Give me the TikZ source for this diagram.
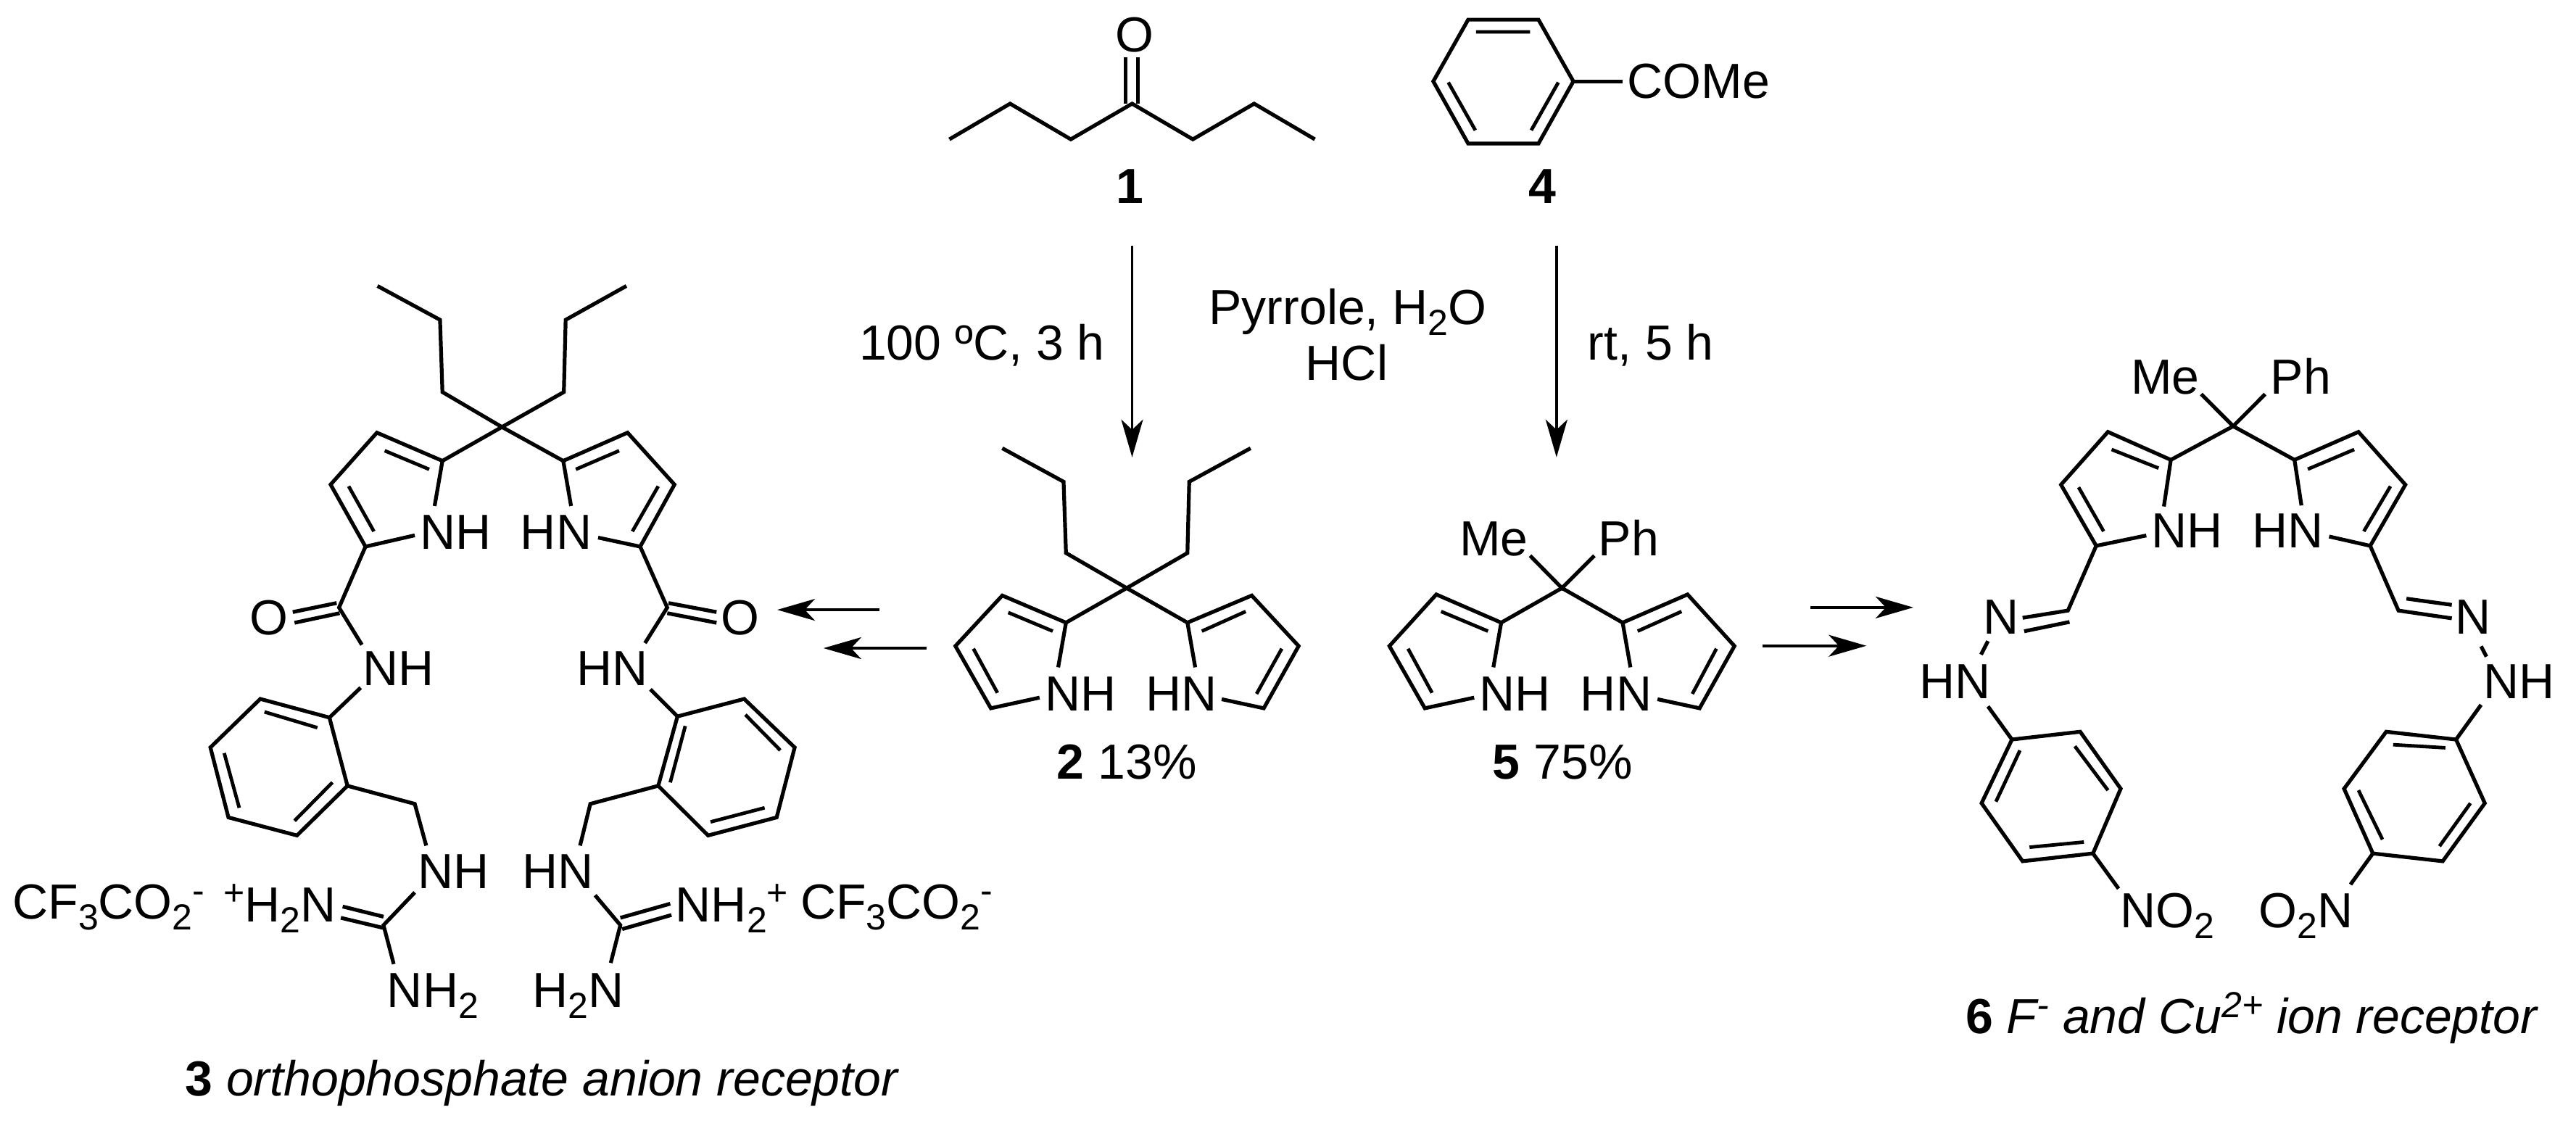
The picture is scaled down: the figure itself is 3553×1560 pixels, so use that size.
\documentclass[tikz,border=0pt]{standalone}
\usepackage{fontspec}
\setmainfont{Liberation Sans}
\usetikzlibrary{arrows.meta}
\newcommand{\sbs}[1]{\raisebox{-0.22em}{\fontsize{50}{50}\selectfont #1}}
\newcommand{\spp}[1]{\raisebox{0.33em}{\fontsize{50}{50}\selectfont #1}}
\newcommand{\pts}[1]{\foreach \n/\px/\py in {#1} {\coordinate (\n) at (\px,\py);}}
\tikzset{
  bond/.style={line width=5.2pt,black},
  inner bond/.style={line width=4.8pt,black},
  react/.style={line width=3.8pt,black,-{Stealth[length=52pt,width=30pt,inset=14pt]}},
  lab/.style={anchor=base west,inner sep=0pt,outer sep=0pt,xshift=-5pt,font=\fontsize{68}{80}\selectfont},
  labc/.style={anchor=base,inner sep=0pt,outer sep=0pt,font=\fontsize{68}{80}\selectfont},
  zoomA/.style={shift={(0pt,-340pt)},x=0.8291pt,y=-0.7781pt},
  zoomB/.style={shift={(1200pt,0pt)},x=0.8291pt,y=-0.7334pt},
  zoomC/.style={shift={(2400pt,-440pt)},x=0.7353pt,y=-0.7143pt},
}
\begin{document}
\begin{tikzpicture}
\useasboundingbox (0pt,0pt) rectangle (3553pt,-1560pt);
\fill[white] (0pt,0pt) rectangle (3553pt,-1560pt);

% ---------- compound 3 ----------
\begin{scope}[zoomA]
\pts{c1/628/70,c2/732/130,c3/736/258,c0/835/320,c4/938/258,c5/941/130,c6/1042/70,
 la/736/380,lb/627/330,lc/550/422,ld/608/532,ln1/723/460,ln2/690/512,
 ra/937/380,rb/1044/330,rc/1122/422,rd/1065/532,rn1/950/460,rn2/995/516,
 lco/564/640,lam/602/706,lo1/487/648,lo2/490/667,lc1/560/632,lc2/565/650,
 rco/1110/640,ram/1073/703,ro1/1192/648,ro2/1192/667,rc1/1112/632,rc2/1110/650,
 lan/600/782,b1/548/835,b2/433/802,b3/350/888,b4/380/1012,b5/494/1044,b6/578/956,
 lch/690/988,lnh/709/1062,lg1/690/1145,lg/638/1203,lg2/655/1272,
 ln3/570/1170,ln4/567/1190,lg3/638/1188,lg4/638/1208,
 ran/1082/785,d1/1127/833,d2/1238/802,d3/1322/888,d4/1292/1012,d5/1178/1044,d6/1095/956,
 rch/982/988,rnh/965/1062,rg1/990/1150,rg/1032/1203,rg2/1016/1270,
 rn3/1115/1165,rn4/1117/1185,rg3/1032/1190,rg4/1035/1210}
\draw[bond] (c1)--(c2)--(c3)--(c0)--(c4)--(c5)--(c6);
\draw[bond] (la)--(c0)--(ra);
\draw[bond] (ln1)--(la)--(lb)--(lc)--(ld)--(ln2);
\draw[bond] (rn1)--(ra)--(rb)--(rc)--(rd)--(rn2);
\draw[inner bond] (714,395)--(640,362) (580,425)--(622,505) (958,395)--(1030,362) (1095,425)--(1052,505);
\draw[bond] (ld)--(lco)--(lam) (rd)--(rco)--(ram);
\draw[bond] (lc1)--(lo1) (lc2)--(lo2) (rc1)--(ro1) (rc2)--(ro2);
\draw[bond] (b1)--(b2)--(b3)--(b4)--(b5)--(b6)--cycle;
\draw[bond] (lan)--(b1);
\draw[inner bond] (440,825)--(528,853) (373,898)--(398,995) (490,1018)--(553,950);
\draw[bond] (b6)--(lch)--(lnh) (lg1)--(lg)--(lg2) (ln3)--(lg3) (ln4)--(lg4);
\draw[bond] (d1)--(d2)--(d3)--(d4)--(d5)--(d6)--cycle;
\draw[bond] (ran)--(d1);
\draw[inner bond] (1240,830)--(1298,893) (1182,1020)--(1272,995) (1115,950)--(1140,850);
\draw[bond] (d6)--(rch)--(rnh) (rg1)--(rg)--(rg2) (rn3)--(rg3) (rn4)--(rg4);
\node[lab] (t3a) at (705,537) {NH};
\node[lab] (t3b) at (872,537) {HN};
\node[labc] (t3c) at (447,688) {O};
\node[labc] (t3d) at (1231,688) {O};
\node[lab] (t3e) at (610,778) {NH};
\node[lab] (t3f) at (965,778) {HN};
\node[lab] (t3g) at (701,1138) {NH};
\node[lab] (t3h) at (875,1138) {HN};
\node[lab] (t3i) at (27,1192) {CF\sbs{3}CO\sbs{2}\spp{-}};
\node[lab] (t3j) at (378,1197) {\spp{+}H\sbs{2}N};
\node[lab] (t3k) at (1130,1197) {NH\sbs{2}\spp{+}};
\node[lab] (t3l) at (1338,1192) {CF\sbs{3}CO\sbs{2}\spp{-}};
\node[lab] (t3m) at (650,1349) {NH\sbs{2}};
\node[lab] (t3n) at (892,1349) {H\sbs{2}N};
\node[lab] (t3o) at (314,1505) {\textbf{3} \itshape orthophosphate anion receptor};
\coordinate (ar1s) at (1463,644); \coordinate (ar1e) at (1293,644);
\coordinate (ar2s) at (1541,712); \coordinate (ar2e) at (1370,712);
\draw[react] (ar1s)--(ar1e);
\draw[react] (ar2s)--(ar2e);
\end{scope}

% ---------- compounds 1, 4, 2, 5 ----------
\begin{scope}[zoomB]
\pts{k1/132/262,k2/233/195,k3/334/262,k4/436/195,k5/537/262,k6/639/195,k7/740/262,
 ko1/425/195,ko2/425/108,ko3/446/195,ko4/446/108,
 p1/1170/153,p2/1112/37,p3/995/37,p4/937/153,p5/995/270,p6/1112/270,px/1252/153,
 e1/220/843,e2/322/906,e3/326/1040,e0/427/1106,e4/528/1040,e5/531/906,e6/633/843,
 ea/326/1171,eb/220/1120,ec/142/1215,ed/201/1332,en1/313/1255,en2/282/1312,
 fa/528/1171,fb/635/1120,fc/713/1215,fd/655/1332,fn1/541/1255,fn2/585/1315,
 g0/1151/1106,gm/1098/1045,gp/1205/1045,
 ga/1050/1171,gb/942/1118,gc/864/1215,gd/923/1332,gn1/1037/1255,gn2/1005/1312,
 ha/1252/1171,hb/1360/1118,hc/1438/1215,hd/1380/1332,hn1/1265/1255,hn2/1310/1315}
\draw[bond] (k1)--(k2)--(k3)--(k4)--(k5)--(k6)--(k7);
\draw[bond] (ko1)--(ko2) (ko3)--(ko4);
\node[labc] (t1o) at (440,97) {O};
\node[labc] (t1) at (432,383) {\textbf{1}};
\draw[bond] (p1)--(p2)--(p3)--(p4)--(p5)--(p6)--cycle;
\draw[inner bond] (1008,60)--(1098,60) (962,155)--(1007,245) (1145,155)--(1100,245);
\draw[bond] (p1)--(px);
\node[lab] (t4c) at (1266,185) {COMe};
\node[labc] (t4) at (1118,383) {\textbf{4}};
\coordinate (v1s) at (436,462); \coordinate (v1e) at (436,860);
\coordinate (v2s) at (1142,462); \coordinate (v2e) at (1142,860);
\draw[react] (v1s)--(v1e);
\draw[react] (v2s)--(v2e);
\node[lab] (tc1) at (-12,677) {100 ºC, 3 h};
\node[lab] (tc2) at (570,610) {Pyrrole, H\sbs{2}O};
\node[labc] (tc3) at (793,715) {HCl};
\node[lab] (tc4) at (1200,677) {rt, 5 h};
\draw[bond] (e1)--(e2)--(e3)--(e0)--(e4)--(e5)--(e6);
\draw[bond] (ea)--(e0)--(fa);
\draw[bond] (en1)--(ea)--(eb)--(ec)--(ed)--(en2);
\draw[bond] (fn1)--(fa)--(fb)--(fc)--(fd)--(fn2);
\draw[inner bond] (304,1187)--(230,1152) (172,1220)--(212,1303) (552,1187)--(625,1150) (685,1220)--(643,1305);
\node[lab] (t2a) at (297,1337) {NH};
\node[lab] (t2b) at (465,1337) {HN};
\node[lab] (t2) at (317,1465) {\textbf{2} 13\%};
\draw[bond] (gm)--(g0)--(gp) (ga)--(g0)--(ha);
\draw[bond] (gn1)--(ga)--(gb)--(gc)--(gd)--(gn2);
\draw[bond] (hn1)--(ha)--(hb)--(hc)--(hd)--(hn2);
\draw[inner bond] (1028,1187)--(950,1150) (895,1220)--(935,1303) (1277,1187)--(1350,1150) (1408,1220)--(1368,1305);
\node[lab] (t5me) at (987,1045) {Me};
\node[lab] (t5ph) at (1218,1045) {Ph};
\node[lab] (t5a) at (1020,1337) {NH};
\node[lab] (t5b) at (1188,1337) {HN};
\node[lab] (t5) at (1042,1465) {\textbf{5} 75\%};
\end{scope}

% ---------- compound 6 ----------
\begin{scope}[zoomC]
\pts{m0/925/207,mm/865/145,mp/985/145,
 qa/808/272,qb/690/218,qc/602/320,qd/668/438,qn1/795/362,qn2/762/418,
 sa/1040/272,sb/1160/218,sc/1248/320,sd/1182/438,sn1/1053/360,sn2/1105/420,
 qe/615/563,qf/530/577,qg/618/585,qh/533/603,qi/465/622,qj/452/648,qk/465/748,
 u1/510/812,u2/638/797,u3/714/907,u4/662/1032,u5/530/1047,u6/453/935,un/710/1100,
 se/1235/563,sf/1335/578,sg/1250/540,sh/1335/552,si/1390/632,sj/1400/652,sk/1390/745,
 w1/1343/812,w2/1212/797,w3/1133/907,w4/1187/1032,w5/1318/1047,w6/1397/935,wn/1145/1092}
\draw[bond] (mm)--(m0)--(mp) (qa)--(m0)--(sa);
\draw[bond] (qn1)--(qa)--(qb)--(qc)--(qd)--(qn2);
\draw[bond] (sn1)--(sa)--(sb)--(sc)--(sd)--(sn2);
\draw[inner bond] (785,288)--(697,252) (635,325)--(682,410) (1065,290)--(1152,252) (1220,323)--(1170,410);
\draw[bond] (qd)--(qe)--(qf) (qg)--(qh) (qi)--(qj) (qk)--(u1);
\draw[bond] (u1)--(u2)--(u3)--(u4)--(u5)--(u6)--cycle;
\draw[inner bond] (628,825)--(690,910) (525,833)--(480,932) (543,1020)--(645,1010);
\draw[bond] (u4)--(un);
\draw[bond] (sd)--(se)--(sf) (sg)--(sh) (si)--(sj) (sk)--(w1);
\draw[bond] (w1)--(w2)--(w3)--(w4)--(w5)--(w6)--cycle;
\draw[inner bond] (1323,828)--(1225,822) (1160,910)--(1205,1005) (1312,1018)--(1370,935);
\draw[bond] (w4)--(wn);
\node[lab] (t6me) at (740,145) {Me};
\node[lab] (t6ph) at (1002,145) {Ph};
\node[lab] (t6a) at (778,442) {NH};
\node[lab] (t6b) at (967,442) {HN};
\node[lab] (t6c) at (463,608) {N};
\node[lab] (t6d) at (1349,608) {N};
\node[lab] (t6e) at (343,733) {HN};
\node[lab] (t6f) at (1401,733) {NH};
\node[lab] (t6g) at (720,1175) {NO\sbs{2}};
\node[lab] (t6h) at (980,1175) {O\sbs{2}N};
\node[lab] (t6) at (430,1380) {\textbf{6} \itshape F\spp{-} and Cu\spp{2+} ion receptor};
\coordinate (ar3s) at (132,557); \coordinate (ar3e) at (325,557);
\coordinate (ar4s) at (42,631); \coordinate (ar4e) at (237,631);
\draw[react] (ar3s)--(ar3e);
\draw[react] (ar4s)--(ar4e);
\end{scope}
\end{tikzpicture}
\end{document}
